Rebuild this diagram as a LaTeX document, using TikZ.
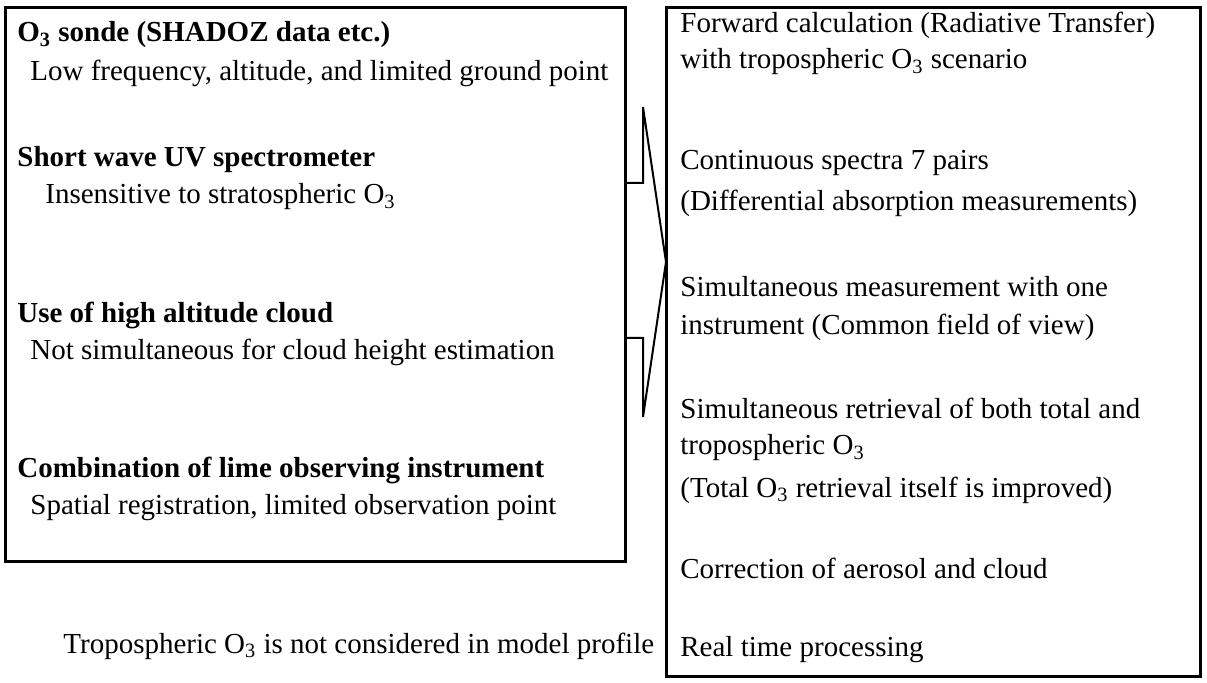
\documentclass[tikz,border=0pt]{standalone}
\usepackage{fontspec}
\setmainfont{Liberation Serif}
\usetikzlibrary{positioning}
\newcommand{\ozone}{O\textsubscript{3}}
\newcommand{\txtsize}{\fontsize{14.5pt}{17pt}\selectfont}
\tikzset{
  box/.style={line width=1.5pt},
  arrowline/.style={line width=1pt,line join=miter},
  hd/.style={anchor=west,inner sep=0pt,font=\txtsize\bfseries},
  tx/.style={anchor=west,inner sep=0pt,font=\txtsize},
}

\begin{document}
\begin{tikzpicture}[x=0.5pt,y=-0.5pt]
        \useasboundingbox (0,0) rectangle (1207,683);
        % the two frames
        \draw[box] (5,8) rectangle (625,562);
        \draw[box] (666,8) rectangle (1200,677);
        % block arrow between them
        \draw[arrowline] (625,183) -- (643,183) -- (643,107) -- (666,262)
          -- (643,417) -- (643,338) -- (625,338);
        % left frame: methods and their drawbacks
        \node[hd] (sonde)  at (17,35)  {\ozone{} sonde (SHADOZ data etc.)};
        \node[tx] (sondeN) at (30,73)  {Low frequency, altitude, and limited ground point};
        \node[hd] (uv)     at (17,160) {Short wave UV spectrometer};
        \node[tx] (uvN)    at (45,197) {Insensitive to stratospheric \ozone};
        \node[hd] (cloud)  at (17,315) {Use of high altitude cloud};
        \node[tx] (cloudN) at (30,352) {Not simultaneous for cloud height estimation};
        \node[hd] (comb)   at (17,470) {Combination of lime observing instrument};
        \node[tx] (combN)  at (30,508) {Spatial registration, limited observation point};
        \node[tx] (model)  at (63,646) {Tropospheric \ozone{} is not considered in model profile};
        % right frame: features
        \node[tx] (fwd)   at (680,25)  {Forward calculation (Radiative Transfer)};
        \node[tx] (fwdB)  at (680,62)  {with tropospheric \ozone{} scenario};
        \node[tx] (spec)  at (680,163) {Continuous spectra 7 pairs};
        \node[tx] (specB) at (680,203) {(Differential absorption measurements)};
        \node[tx] (simu)  at (680,287) {Simultaneous measurement with one};
        \node[tx] (simuB) at (680,327) {instrument (Common field of view)};
        \node[tx] (retr)  at (680,408) {Simultaneous retrieval of both total and};
        \node[tx] (retrB) at (680,448) {tropospheric \ozone};
        \node[tx] (retrC) at (680,490) {(Total \ozone{} retrieval itself is improved)};
        \node[tx] (corr)  at (680,568) {Correction of aerosol and cloud};
        \node[tx] (real)  at (680,650) {Real time processing};
      \end{tikzpicture}
\end{document}
